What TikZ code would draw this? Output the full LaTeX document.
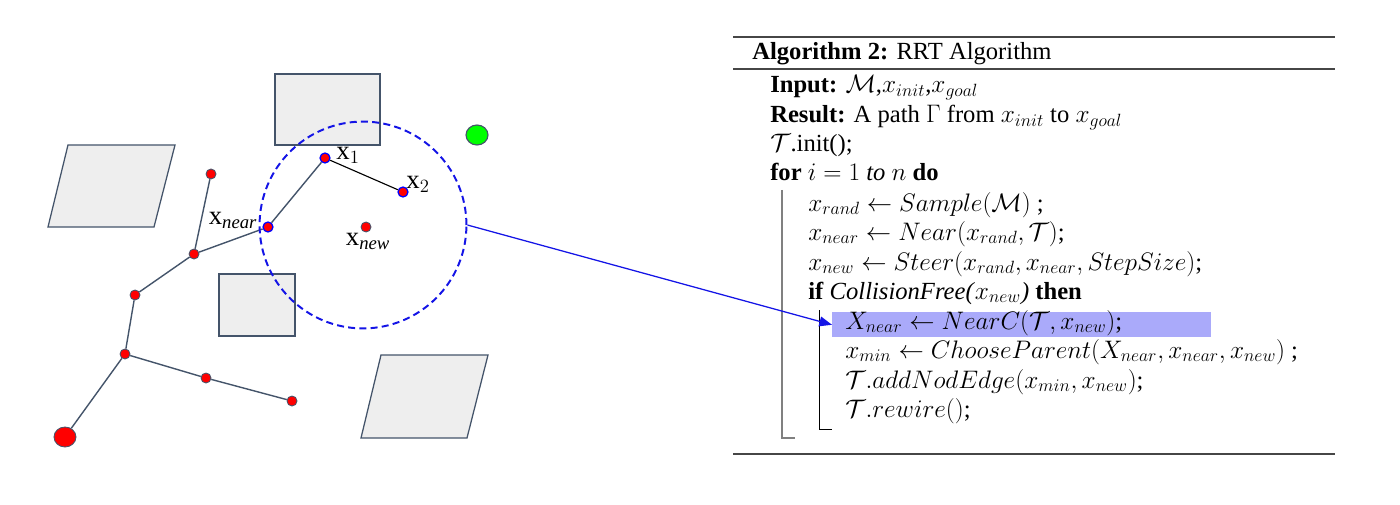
\RequirePackage{fix-cm}
\documentclass[tikz,border=0pt]{standalone}
\usepackage{amsmath}
\usepackage{amssymb}
\usepackage{fontspec}
\setmainfont{Liberation Serif}
\DeclareMathSizes{17.5}{18}{12.6}{9}
\usepackage{tikz}
\usetikzlibrary{
    arrows.meta,
    shapes.geometric,
    positioning
}

\definecolor{slate}{RGB}{68,84,106}
\definecolor{obstfill}{RGB}{238,238,238}
\definecolor{rangeblue}{RGB}{20,20,230}
\definecolor{hlblue}{RGB}{170,170,250}
\definecolor{rulegray}{RGB}{70,70,70}

\tikzset{
    obstacle/.style={draw=slate, fill=obstfill, line width=0.9pt},
    vertex/.style={circle, draw=slate, fill=red, line width=0.6pt, inner sep=0pt, minimum size=0.25cm},
    vertexsel/.style={vertex, draw=blue, line width=0.9pt},
    branch/.style={draw=slate, line width=1pt},
    lbl/.style={font=\fontsize{19}{21}\selectfont, inner sep=0pt},
    algline/.style={anchor=base west, inner sep=0pt, font=\fontsize{17.5}{20}\selectfont},
    algrule/.style={draw=rulegray, line width=1.5pt}
}

\begin{document}
\begin{tikzpicture}[x=0.025cm, y=-0.025cm]
\useasboundingbox (0,0) rectangle (1400,505);

% Obstacles
\draw[obstacle] (275,74) rectangle (380,145);
\draw[obstacle] (68,145) -- (175,145) -- (154,227) -- (48,227) -- cycle;
\draw[obstacle] (219,274) rectangle (295,336);
\draw[obstacle] (381,355) -- (488,355) -- (467,438) -- (361,438) -- cycle;

% Goal
\node[ellipse, draw=slate, fill=green, line width=0.8pt, minimum width=0.55cm, minimum height=0.5cm, inner sep=0pt] (goal) at (477,135) {};

% Tree vertices
\node[vertex, minimum width=0.55cm, minimum height=0.5cm, ellipse] (start) at (65,437) {};
\node[vertex] (n1) at (125,354) {};
\node[vertex] (n2) at (206,378) {};
\node[vertex] (n3) at (292,401) {};
\node[vertex] (n4) at (135,295) {};
\node[vertex] (n5) at (194,254) {};
\node[vertex] (n6) at (211,174) {};
\node[vertexsel] (xnear) at (268,227) {};
\node[vertexsel] (x1) at (325,158) {};
\node[vertexsel] (x2) at (403,192) {};
\node[vertex] (xnew) at (366,227) {};

% Tree edges
\draw[branch] (start) -- (n1);
\draw[branch] (n1) -- (n2) -- (n3);
\draw[branch] (n1) -- (n4) -- (n5) -- (n6);
\draw[branch] (n5) -- (xnear) -- (x1);
\draw[black, line width=0.8pt] (x1) -- (x2);

% Labels
\node[lbl] (lx1) at (348,155) {$\mathrm{x}_1$};
\node[lbl] (lx2) at (418,184) {$\mathrm{x}_2$};
\node[lbl] (lxnear) at (233,220) {$\mathrm{x}_{\mathit{near}}$};
\node[lbl] (lxnew) at (368,241) {$\mathrm{x}_{\mathit{new}}$};

% Near range
\node[circle, draw=rangeblue, dashed, dash pattern=on 5pt off 3pt, line width=1.4pt, minimum size=5.17cm, inner sep=0pt] (range) at (363,225) {};

% Algorithm
\draw[algrule] (733,37) -- (1335,37);
\draw[algrule] (733,69) -- (1335,69);
\draw[algrule] (733,454) -- (1335,454);

\node[fill=hlblue, anchor=north west, minimum width=9.475cm, minimum height=0.625cm, inner sep=0pt] (hl) at (832,312) {};

\node[algline] (title) at (752,60) {\textbf{Algorithm 2:} RRT Algorithm};
\node[algline] (inp) at (770,93) {\textbf{Input:} $\mathcal{M}$,$x_{init}$,$x_{goal}$};
\node[algline] (res) at (770,122.5) {\textbf{Result:} A path $\Gamma$ from $x_{init}$ to $x_{goal}$};
\node[algline] (init) at (770,152) {$\mathcal{T}$.init();};
\node[algline] (forl) at (770,181) {\textbf{for} $i = 1$ \textit{to} $n$ \textbf{do}};
\node[algline] (l1) at (808,211) {$x_{rand} \leftarrow Sample(\mathcal{M})$ ;};
\node[algline] (l2) at (808,240) {$x_{near} \leftarrow Near(x_{rand}, \mathcal{T})$;};
\node[algline] (l3) at (808,270) {$x_{new} \leftarrow Steer(x_{rand}, x_{near}, StepSize)$;};
\node[algline] (ifl) at (808,299) {\textbf{if} \textit{CollisionFree(}$x_{new}$\textit{)} \textbf{then}};
\node[algline] (l4) at (845,329) {$X_{near} \leftarrow NearC(\mathcal{T}, x_{new})$;};
\node[algline] (l5) at (845,358) {$x_{min} \leftarrow ChooseParent(X_{near}, x_{near}, x_{new})$ ;};
\node[algline] (l6) at (845,388) {$\mathcal{T}.addNodEdge(x_{min}, x_{new})$;};
\node[algline] (l7) at (845,417) {$\mathcal{T}.rewire()$;};

% Block bars
\draw[gray, line width=0.8pt] (782,190) -- (782,438) -- (795,438);
\draw[black, line width=0.6pt] (819,310) -- (819,429) -- (832,429);

% Pointer
\draw[rangeblue, line width=0.9pt, -{Triangle[length=9pt, width=7pt]}] (range.east) -- (hl.west);

\end{tikzpicture}
\end{document}
